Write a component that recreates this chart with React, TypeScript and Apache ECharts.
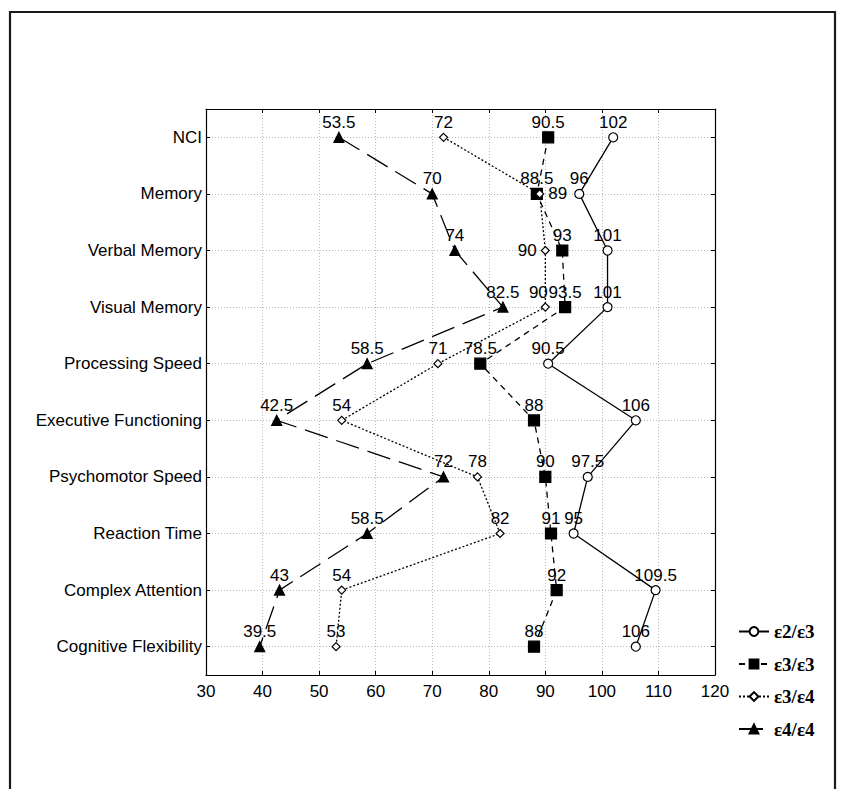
import React, { useEffect, useRef } from "react";
import * as echarts from "echarts";

const categories = [
  "NCI",
  "Memory",
  "Verbal Memory",
  "Visual Memory",
  "Processing Speed",
  "Executive Functioning",
  "Psychomotor Speed",
  "Reaction Time",
  "Complex Attention",
  "Cognitive Flexibility",
];

const seriesNames = ["ε2/ε3", "ε3/ε3", "ε3/ε4", "ε4/ε4"];

const e2e3 = [102, 96, 101, 101, 90.5, 106, 97.5, 95, 109.5, 106];
const e3e3 = [90.5, 88.5, 93, 93.5, 78.5, 88, 90, 91, 92, 88];
const e3e4 = [72, 89, 90, 90, 71, 54, 78, 82, 54, 53];
const e4e4 = [53.5, 70, 74, 82.5, 58.5, 42.5, 72, 58.5, 43, 39.5];

const xTicks = { min: 30, max: 120, interval: 10 };

// label placement exceptions: [seriesIndex, categoryIndex, position, offsetX]
const labelExceptions: [number, number, string, number][] = [
  [2, 1, "right", 0],
  [2, 2, "left", 0],
  [2, 3, "top", -7],
];

const FONT = "'Liberation Sans', Arial, Helvetica, sans-serif";

export default function App() {
  const ref = useRef<HTMLDivElement>(null);
  useEffect(() => {
    if (!ref.current) return;
    const chart = echarts.init(ref.current, null, { renderer: "svg" });

    const styles = [
      { symbol: "circle", size: 9, fill: "#fff", dash: "solid" as any, width: 1.3 },
      { symbol: "rect", size: 11, fill: "#000", dash: [6, 5] as any, width: 1.3 },
      { symbol: "diamond", size: 8, fill: "#fff", dash: [2, 2] as any, width: 1.3 },
      { symbol: "triangle", size: 10, fill: "#000", dash: [24, 9] as any, width: 1.3 },
    ];
    const values = [e2e3, e3e3, e3e4, e4e4];

    const series = values.map((vals, si) => {
      const st = styles[si];
      return {
        name: seriesNames[si],
        type: "line",
        xAxisIndex: 0,
        yAxisIndex: 0,
        symbol: st.symbol,
        symbolSize: st.size,
        showAllSymbol: true,
        lineStyle: { color: "#000", width: st.width, type: st.dash },
        itemStyle: { color: st.fill, borderColor: "#000", borderWidth: 1.2 },
        label: {
          show: true,
          position: "top",
          distance: 6 - st.size / 2,
          color: "#000",
          fontSize: 17,
          fontFamily: FONT,
          formatter: (p: any) => String(p.value[0]),
        },
        emphasis: { disabled: true },
        data: vals.map((v, ci) => {
          const ex = labelExceptions.find((e) => e[0] === si && e[1] === ci);
          const item: any = { value: [v, categories[ci]] };
          if (ex) {
            item.label =
              ex[2] === "top"
                ? { offset: [ex[3], 0] }
                : { position: ex[2], distance: 4, offset: [ex[3], 0] };
          }
          return item;
        }),
        z: 3 + si,
      };
    });

    const option: any = {
      animation: false,
      backgroundColor: "#fff",
      grid: { left: 206, top: 109, width: 509, height: 566 },
      graphic: [
        {
          type: "rect",
          shape: { x: 10, y: 12, width: 825, height: 820 },
          style: { fill: "none", stroke: "#1a1a1a", lineWidth: 2.2 },
          silent: true,
        },
      ],
      legend: {
        orient: "vertical",
        left: 733,
        top: 617,
        itemWidth: 30,
        itemHeight: 11,
        itemGap: 13.5,
        selectedMode: false,
        data: seriesNames,
        textStyle: {
          fontFamily: "'Liberation Serif', 'Times New Roman', serif",
          fontWeight: "bold",
          fontSize: 19,
          lineHeight: 11,
          color: "#000",
          padding: [0, 0, 0, 0],
        },
      },
      xAxis: [
        {
          type: "value",
          min: xTicks.min,
          max: xTicks.max,
          interval: xTicks.interval,
          position: "bottom",
          axisLine: { show: true, lineStyle: { color: "#000", width: 1.2 } },
          axisTick: { show: true, inside: true, length: 4, lineStyle: { color: "#000" } },
          axisLabel: { color: "#000", fontSize: 17, fontFamily: FONT, margin: 8 },
          splitLine: { show: true, lineStyle: { color: "#b8b8b8", type: [1, 2], width: 1 } },
        },
        {
          type: "value",
          min: xTicks.min,
          max: xTicks.max,
          interval: xTicks.interval,
          position: "top",
          axisLine: { show: true, lineStyle: { color: "#000", width: 1.2 } },
          axisTick: { show: true, inside: true, length: 4, lineStyle: { color: "#000" } },
          axisLabel: { show: false },
          splitLine: { show: false },
        },
      ],
      yAxis: [
        {
          type: "category",
          data: categories,
          inverse: true,
          boundaryGap: true,
          position: "left",
          axisLine: { show: true, lineStyle: { color: "#000", width: 1.2 } },
          axisTick: { show: true, inside: true, length: 4, alignWithLabel: true, lineStyle: { color: "#000" } },
          axisLabel: { color: "#000", fontSize: 17, fontFamily: FONT, margin: 4 },
          splitLine: { show: true, alignWithLabel: true, lineStyle: { color: "#b8b8b8", type: [1, 2], width: 1 } },
        },
        {
          type: "category",
          data: categories,
          inverse: true,
          boundaryGap: true,
          position: "right",
          axisLine: { show: true, lineStyle: { color: "#000", width: 1.2 } },
          axisTick: { show: true, inside: true, length: 4, alignWithLabel: true, lineStyle: { color: "#000" } },
          axisLabel: { show: false },
          splitLine: { show: false },
        },
      ],
      series,
    };
    chart.setOption(option);
    return () => chart.dispose();
  }, []);
  return (
    <div
      ref={ref}
      style={{ position: "fixed", left: 0, top: 0, width: 841, height: 789, background: "#fff" }}
    />
  );
}
